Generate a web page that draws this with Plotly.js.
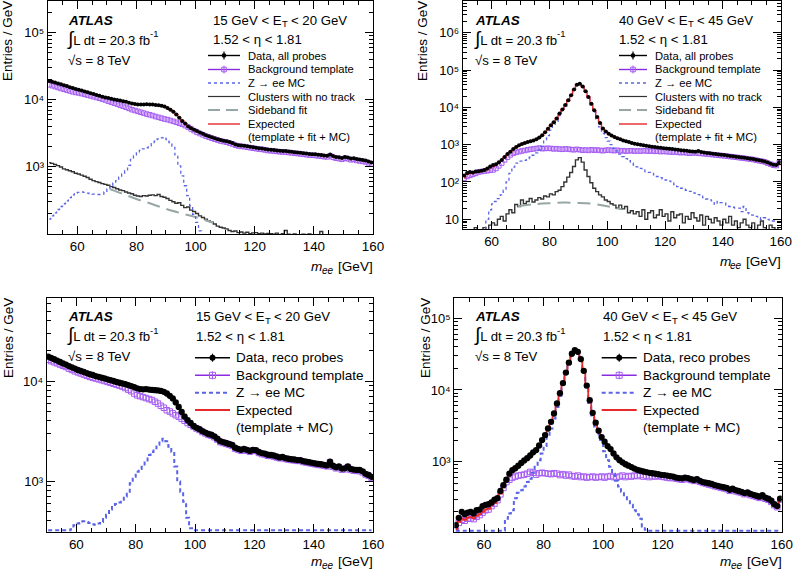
<!DOCTYPE html>
<html><head><meta charset="utf-8">
<script src="https://cdn.plot.ly/plotly-3.0.1.min.js"></script>
<style>html,body{margin:0;padding:0;background:#fff;}#chart{width:793px;height:574px;}</style>
</head><body><div id="chart"></div>
<script>
// ---------------- DATA ----------------
const massBins = [50.5,51.5,52.5,53.5,54.5,55.5,56.5,57.5,58.5,59.5,
60.5,61.5,62.5,63.5,64.5,65.5,66.5,67.5,68.5,69.5,
70.5,71.5,72.5,73.5,74.5,75.5,76.5,77.5,78.5,79.5,
80.5,81.5,82.5,83.5,84.5,85.5,86.5,87.5,88.5,89.5,
90.5,91.5,92.5,93.5,94.5,95.5,96.5,97.5,98.5,99.5,
100.5,101.5,102.5,103.5,104.5,105.5,106.5,107.5,108.5,109.5,
110.5,111.5,112.5,113.5,114.5,115.5,116.5,117.5,118.5,119.5,
120.5,121.5,122.5,123.5,124.5,125.5,126.5,127.5,128.5,129.5,
130.5,131.5,132.5,133.5,134.5,135.5,136.5,137.5,138.5,139.5,
140.5,141.5,142.5,143.5,144.5,145.5,146.5,147.5,148.5,149.5,
150.5,151.5,152.5,153.5,154.5,155.5,156.5,157.5,158.5,159.5];

const xTickVals = [60,80,100,120,140,160];
const xTickText = ['60','80','100','120','140','160'];
const decadeLabels = {1:'10', 2:'10²', 3:'10³', 4:'10⁴', 5:'10⁵', 6:'10⁶'};

// Panel 1: 15 < ET < 20 GeV, all probes
const p1Data = [19100,18600,18100,17500,17000,16500,16000,15300,14900,14500,
14100,13700,13300,12900,12500,12200,11800,11500,11100,10800,
10600,10300,10100,9900,9700,9500,9300,9000,8800,8600,
8500,8450,8500,8550,8500,8450,8350,8300,8100,7900,
7500,7100,6600,6000,5400,4800,4400,4000,3750,3550,
3400,3250,3100,2950,2850,2750,2650,2580,2500,2450,
2400,2330,2250,2150,2100,2080,2060,2020,1990,1950,
1920,1890,1870,1840,1800,1790,1770,1750,1730,1720,
1710,1690,1670,1650,1630,1610,1590,1570,1550,1540,
1530,1510,1500,1470,1460,1520,1440,1400,1380,1350,
1400,1370,1330,1340,1300,1280,1260,1240,1200,1160];
const p1Bkg = [16700,16200,15700,15200,14700,14300,13900,13500,13100,12800,
12600,12300,12000,11700,11400,11100,10800,10500,10200,9900,
9500,9200,8900,8600,8300,8000,7700,7400,7100,6900,
6700,6500,6300,6100,5950,5800,5600,5450,5300,5150,
5050,4900,4750,4600,4450,4300,4100,3900,3650,3450,
3250,3120,2990,2860,2760,2660,2570,2500,2420,2370,
2320,2250,2180,2090,2040,2010,1990,1950,1920,1890,
1860,1830,1810,1780,1740,1730,1710,1690,1670,1660,
1650,1630,1610,1590,1570,1550,1530,1510,1490,1480,
1470,1450,1440,1410,1400,1460,1380,1340,1320,1290,
1340,1310,1270,1280,1240,1220,1200,1180,1140,1100];
const p1ZMC = [165,185,205,230,255,280,310,345,380,405,
415,420,415,405,395,390,385,385,390,420,
465,520,570,620,700,780,870,1050,1290,1450,
1620,1750,1850,1920,2050,2200,2400,2600,2700,2750,
2550,2300,2030,1500,1030,730,520,370,263,195,
148,110,80,60,45,35,0,0,0,0,
0,0,0,0,0,0,0,0,0,0,
0,0,0,0,0,0,0,0,0,0,
0,0,0,0,0,0,0,0,0,0,
0,0,0,0,0,0,0,0,0,0,
0,0,0,0,0,0,0,0,0,0];
const p1NoTrack = [1150,1120,1080,1040,990,930,900,870,840,800,
780,750,720,690,650,620,600,580,560,545,
530,505,490,470,450,440,420,405,395,375,
365,360,370,365,375,380,370,385,360,350,
335,315,300,285,290,265,245,250,225,215,
200,185,175,165,155,148,140,130,125,122,
118,112,108,110,104,106,102,105,100,103,
104,100,102,99,101,100,98,102,97,100,
112,98,96,99,97,95,98,96,99,94,
96,95,108,94,96,93,95,92,94,93,
92,94,91,93,90,92,91,90,92,90];
const p1FitMass = [71,75,80,85,90,95,100,106];
const p1Fit = [464,400,330,280,235,203,177,145];
const p1Expected = [19000,18500,18000,17400,16900,16400,15900,15300,14900,14500,
14100,13700,13300,12900,12500,12200,11800,11500,11150,10850,
10600,10350,10100,9900,9700,9500,9300,9050,8850,8650,
8550,8500,8500,8500,8500,8450,8400,8300,8100,7900,
7500,7100,6600,6000,5400,4850,4400,4000,3750,3550,
3400,3250,3100,2950,2850,2750,2650,2580,2500,2450,
2400,2330,2250,2160,2100,2080,2060,2020,1990,1950,
1920,1890,1870,1840,1810,1790,1770,1750,1730,1720,
1710,1690,1670,1650,1630,1610,1590,1570,1550,1540,
1530,1510,1500,1470,1460,1510,1440,1400,1380,1350,
1390,1370,1330,1340,1300,1280,1260,1240,1200,1160];

// Panel 2: 40 < ET < 45 GeV, all probes
const p2Data = [150,175,185,180,190,195,200,210,230,260,
285,300,340,390,470,560,650,760,860,960,
1040,1100,1170,1230,1300,1400,1550,1800,2150,2650,
3300,4000,5000,6800,8800,11500,15500,21000,30000,40000,
43000,36000,27000,19000,12500,8300,5500,3800,2700,2250,
1950,1750,1600,1480,1390,1300,1230,1170,1110,1060,
1020,990,960,930,905,885,865,845,825,805,
790,775,760,745,730,710,700,690,670,660,
650,680,640,615,600,590,570,560,545,535,
525,510,500,490,475,465,455,445,430,420,
410,395,380,370,355,330,310,290,285,340];
const p2Bkg = [125,140,150,160,170,185,190,195,200,205,
210,230,270,320,390,460,530,590,620,650,
680,700,730,750,770,790,810,780,790,800,
790,770,780,760,750,770,760,740,730,750,
730,710,720,700,730,710,720,700,690,710,
720,700,690,710,680,690,670,680,690,670,
680,670,690,680,670,680,660,670,650,660,
650,640,630,640,620,610,620,600,590,600,
600,590,580,570,560,550,540,530,520,510,
500,490,480,470,460,450,440,430,420,410,
400,385,370,360,345,320,300,280,275,330];
const p2ZMC = [0,0,0,0,0,0,0,4,10,18,
26,30,36,45,60,100,170,250,320,360,
360,380,420,460,520,600,720,900,1250,1750,
2450,3200,4200,6000,8000,10700,14700,20200,29200,39200,
42200,35200,26200,18200,11700,7500,4700,3000,2000,1550,
1250,1000,800,680,560,480,420,370,320,285,
255,230,210,190,180,170,155,140,130,120,
113,105,95,85,75,68,64,60,56,52,
50,46,42,38,35,33,31,25,30,28,
27,24,22,21,20,20,16,22,15,14,
13,12,11,10,11,10,9,9,8.5,8.5];
const p2NoTrack = [3,5,4,3,6,5,4,6,5,7,
8,7,10,12,9,14,18,15,25,22,
33,26,30,36,29,33,38,35,42,40,
48,45,55,60,75,100,135,180,260,390,
450,340,210,140,95,68,55,45,40,33,
30,26,24,20,24,19,22,15,17,14,
16,12,18,10,15,17,11,13,18,12,
14,9,16,11,13,14,8,12,10,15,
11,9,13,7,12,10,8,11,9,7,
10,8,12,7,9,6,8,10,7,6,
8,5,7,9,6,5,7,6,5,6];
const p2FitMass = [69,75,80,85,90,95,100,105];
const p2Fit = [22.5,25.5,27,28,27.5,26,22.5,18.5];
const p2Expected = [130,160,170,170,180,190,195,200,215,240,
265,290,335,385,465,555,645,755,855,955,
1035,1095,1165,1230,1300,1400,1550,1790,2150,2650,
3280,4000,5000,6800,8800,11500,15500,21000,30000,40000,
43000,36000,27000,19000,12500,8300,5500,3800,2700,2250,
1950,1750,1600,1480,1390,1300,1230,1170,1110,1060,
1020,990,960,930,905,885,865,845,825,805,
790,775,760,745,730,710,700,690,670,660,
650,670,640,615,600,590,570,560,545,535,
525,510,500,490,475,465,455,445,430,420,
410,395,380,370,355,330,310,290,285,335];

// Panel 3: 15 < ET < 20 GeV, reco probes
const p3Data = [17500,17000,16500,16000,15500,15000,14600,14100,13700,13300,
12900,12600,12300,12000,11700,11500,11200,11000,10800,10600,
10400,10200,10000,9800,9600,9450,9300,9100,8900,8700,
8450,8300,8250,8300,8200,8150,8100,8050,7950,7800,
7500,7100,6700,6100,5500,4900,4400,4050,3800,3550,
3400,3300,3150,3050,2950,2900,2800,2650,2500,2450,
2400,2350,2300,2150,2100,2050,2100,2050,2000,2050,
2040,1950,1900,1880,1830,1820,1800,1760,1720,1740,
1690,1670,1650,1640,1620,1620,1580,1560,1540,1520,
1500,1480,1470,1450,1430,1560,1420,1370,1400,1330,
1340,1400,1320,1300,1290,1290,1250,1180,1150,1100];
const p3Bkg = [16300,15800,15400,15000,14600,14200,13800,13300,12900,12500,
12200,11900,11600,11300,11000,10800,10600,10400,10200,10000,
9800,9600,9400,9200,9000,8800,8500,8200,7900,7500,
7200,7050,6900,6750,6600,6450,6200,5950,5650,5400,
5100,4950,4750,4550,4400,4200,4000,3800,3650,3500,
3350,3240,3090,2990,2890,2840,2740,2600,2450,2400,
2350,2300,2250,2110,2060,2010,2060,2010,1960,2010,
2000,1910,1860,1840,1790,1780,1760,1720,1690,1700,
1660,1640,1620,1610,1590,1590,1550,1530,1510,1490,
1470,1450,1440,1420,1400,1530,1390,1340,1370,1300,
1310,1370,1290,1270,1260,1260,1220,1160,1130,1080];
const p3ZMC = [0,0,0,0,0,0,0,280,330,360,
375,380,395,390,380,370,365,375,390,430,
460,520,575,590,610,620,700,780,950,1100,
1240,1320,1390,1600,1820,1950,2120,2300,2500,2650,
2500,2200,1960,1400,990,780,620,430,337,0,
0,0,0,0,0,0,0,0,0,0,
0,0,0,0,0,0,0,0,0,0,
0,0,0,0,0,0,0,0,0,0,
0,0,0,0,0,0,0,0,0,0,
0,0,0,0,0,0,0,0,0,0,
0,0,0,0,0,0,0,0,0,0];
const p3Expected = [17400,16900,16400,15900,15400,14900,14500,14000,13600,13200,
12800,12500,12200,11900,11600,11400,11100,10900,10700,10500,
10300,10100,9950,9750,9600,9450,9250,9050,8850,8650,
8450,8350,8300,8350,8400,8350,8300,8250,8150,7950,
7600,7150,6700,6000,5400,4950,4600,4200,3950,3700,
3350,3240,3090,2990,2890,2840,2740,2600,2450,2400,
2350,2300,2250,2110,2060,2010,2060,2010,1960,2010,
2000,1910,1860,1840,1790,1780,1760,1720,1690,1700,
1660,1640,1620,1610,1590,1590,1550,1530,1510,1490,
1470,1450,1440,1420,1400,1530,1390,1340,1370,1300,
1310,1370,1290,1270,1260,1260,1220,1160,1130,1080];

// Panel 4: 40 < ET < 45 GeV, reco probes
const p4Data = [130,165,200,185,195,200,190,210,215,240,
250,255,270,295,310,390,470,560,680,760,
810,880,960,1040,1120,1220,1350,1450,1680,2000,
2350,2900,3600,4700,6500,9000,12500,17500,24000,32000,
36000,34000,27000,18500,11500,7200,4800,3500,2700,2200,
1900,1650,1500,1300,1150,1050,980,920,880,840,
800,770,750,730,715,700,690,680,670,655,
650,640,630,620,600,590,585,600,590,570,
555,570,540,520,510,500,490,470,460,450,
440,430,405,420,400,390,380,365,372,355,
345,335,325,340,315,305,285,255,240,305];
const p4Bkg = [110,140,155,150,160,162,158,170,180,195,
210,215,240,260,290,350,430,520,560,600,
620,640,650,660,680,720,700,660,690,700,
690,680,670,690,680,650,670,640,660,630,
620,640,610,620,600,610,620,600,610,620,
600,620,630,610,600,620,640,610,630,620,
640,630,650,620,640,610,630,620,640,620,
610,600,590,600,580,570,560,580,570,555,
540,555,525,505,495,480,470,455,445,435,
425,415,392,405,387,377,367,352,360,342,
333,323,313,328,304,294,275,247,232,295];
const p4ZMC = [0,0,0,0,0,0,0,0,0,0,
0,0,0,0,0,0,0,160,190,210,
310,370,400,450,520,580,700,850,1050,1300,
1650,2200,2900,4000,5800,8300,11800,16800,23300,31300,
35400,33400,26400,17900,10900,6600,4400,3100,2400,2000,
1400,1050,850,680,540,450,380,320,290,250,
210,185,160,125,112,0,0,0,0,0,
0,0,0,0,0,0,0,0,0,0,
0,0,0,0,0,0,0,0,0,0,
0,0,0,0,0,0,0,0,0,0,
0,0,0,0,0,0,0,0,0,0];
const p4Expected = [115,145,160,155,165,168,162,175,185,200,
215,220,245,265,295,360,440,540,660,760,
810,880,960,1040,1120,1220,1350,1450,1680,2000,
2350,2900,3600,4700,6500,9000,12500,17500,24000,32000,
36000,34000,27000,18500,11500,7200,4800,3500,2700,2200,
1900,1650,1500,1300,1150,1050,980,920,880,840,
800,770,750,730,715,700,690,680,670,655,
650,640,630,620,600,590,585,600,590,570,
555,570,540,520,510,500,490,470,460,450,
440,430,405,420,400,390,380,365,372,355,
345,335,325,340,315,305,285,255,240,305];

// ---------------- STYLE / LAYOUT ----------------
const W = 793, H = 574;
const fx = x => x / W, fy = y => 1 - y / H;
const FONT = 'Liberation Sans, Arial, Helvetica, sans-serif';
const C = {data:'#000000', bkg:'#a55cf2', bkgLine:'#8a2be2', z:'#5a64e6', nt:'#333333', fit:'#98a6a6', exp:'#e8282a'};

function minorLogTicks(lo, hi){
  const minor = [];
  for (let n = Math.floor(lo); n <= Math.ceil(hi); n++){
    const v = Math.pow(10, n);
    for (let k = 2; k <= 9; k++){ const m = k * v; const l = Math.log10(m); if (l >= lo && l <= hi) minor.push(m); }
  }
  return minor;
}

const panels = [
  {ax:'', xpx:[47.7,373], ypx:[1,234], yr:[1.996,5.473], labelDecades:[3,4,5], top:true,
   data:p1Data, bkg:p1Bkg, z:p1ZMC, nt:p1NoTrack, fitX:p1FitMass, fit:p1Fit, exp:p1Expected},
  {ax:'2', xpx:[462.7,780.7], ypx:[1,229.3], yr:[0.732,6.849], labelDecades:[1,2,3,4,5,6], top:true,
   data:p2Data, bkg:p2Bkg, z:p2ZMC, nt:p2NoTrack, fitX:p2FitMass, fit:p2Fit, exp:p2Expected},
  {ax:'3', xpx:[46.7,373], ypx:[297.7,532.3], yr:[2.487,4.833], labelDecades:[3,4], top:false,
   data:p3Data, bkg:p3Bkg, z:p3ZMC, exp:p3Expected},
  {ax:'4', xpx:[454.3,781.7], ypx:[297.7,532.3], yr:[2.015,5.287], labelDecades:[3,4,5], top:false,
   data:p4Data, bkg:p4Bkg, z:p4ZMC, exp:p4Expected}
];

const traces = [];
const layout = {
  width: W, height: H, margin:{l:0,r:0,t:0,b:0}, paper_bgcolor:'#fff', plot_bgcolor:'#fff',
  showlegend:false, font:{family:FONT, color:'#000', size:13},
  annotations:[], shapes:[]
};

panels.forEach(p => {
  const xa = 'x' + p.ax, ya = 'y' + p.ax;
  const floorVal = Math.pow(10, p.yr[0] + 0.02);   // empty bins drawn on the lower frame, ROOT style
  const zDraw = p.top ? p.z.map(v => v > 0 ? v : null) : p.z.map(v => Math.max(v, floorVal));
  if (p.top){
    traces.push({x:massBins, y:p.nt, xaxis:xa, yaxis:ya, mode:'lines', line:{shape:'hvh', color:C.nt, width:1.4}, hoverinfo:'skip'});
    traces.push({x:p.fitX, y:p.fit, xaxis:xa, yaxis:ya, mode:'lines', line:{shape:'spline', color:C.fit, width:2, dash:'13px,7px'}, hoverinfo:'skip'});
  }
  traces.push({x:massBins, y:p.bkg, xaxis:xa, yaxis:ya, mode:'markers',
    marker:{symbol:'square-open', size:p.top?4.5:5.5, color:C.bkg, line:{width:1, color:C.bkg}}, hoverinfo:'skip'});
  traces.push({x:massBins, y:zDraw, xaxis:xa, yaxis:ya, mode:'lines', connectgaps:false,
    line:{shape:'hvh', color:C.z, width:p.top?1.3:2, dash:p.top?'3px,3px':'4px,3px'}, hoverinfo:'skip'});
  traces.push({x:massBins, y:p.exp, xaxis:xa, yaxis:ya, mode:'lines', line:{shape:'hvh', color:C.exp, width:p.top?1.4:1.8}, hoverinfo:'skip'});
  traces.push({x:massBins, y:p.data, xaxis:xa, yaxis:ya, mode:'markers', marker:{color:C.data, size:p.top?4:6.3}, hoverinfo:'skip'});

  const common = {showline:true, linecolor:'#000', linewidth:1, mirror:'allticks', ticks:'inside', tickcolor:'#000',
    tickwidth:1, showgrid:false, zeroline:false, automargin:false, fixedrange:true};
  layout['xaxis' + p.ax] = Object.assign({}, common, {
    domain:[fx(p.xpx[0]), fx(p.xpx[1])], anchor:ya, range:[50,160], tickmode:'array',
    tickvals:xTickVals, ticktext:xTickText, ticklen:8, tickfont:{family:FONT, size:13.4, color:'#000'},
    minor:{tickmode:'linear', tick0:50, dtick:5, ticks:'inside', ticklen:4, tickcolor:'#000', tickwidth:1}
  });
  layout['yaxis' + p.ax] = Object.assign({}, common, {
    domain:[fy(p.ypx[1]), fy(p.ypx[0])], anchor:xa, type:'log', range:p.yr, tickmode:'array',
    tickvals:p.labelDecades.map(n => Math.pow(10, n)), ticktext:p.labelDecades.map(n => decadeLabels[n]),
    ticklen:8, tickfont:{family:FONT, size:13, color:'#000'},
    minor:{tickmode:'array', tickvals:minorLogTicks(p.yr[0], p.yr[1]), ticks:'inside', ticklen:4, tickcolor:'#000', tickwidth:1}
  });
});

// ---- text blocks ----
function ann(x, y, text, opts){
  return Object.assign({xref:'paper', yref:'paper', x:fx(x), y:fy(y), text:text, showarrow:false,
    borderpad:0, borderwidth:0,
    xanchor:'left', yanchor:'middle', font:{family:FONT, size:13.2, color:'#000'}}, opts || {});
}
const atlasPos = [[68,20],[475,20],[68,316],[475,316]];
const etLeft = ['15 GeV &lt; E','40 GeV &lt; E','15 GeV &lt; E','40 GeV &lt; E'];
const etRight = ['&lt; 20 GeV','&lt; 45 GeV','&lt; 20 GeV','&lt; 45 GeV'];
const etPos = [[213,20],[619,20],[195.5,316],[603,316]];
atlasPos.forEach((pos, i) => {
  const x0 = pos[0], y0 = pos[1];
  layout.annotations.push(ann(x0, y0, '<b><i>ATLAS</i></b>', {font:{family:FONT, size:13.4, color:'#000'}}));
  layout.annotations.push(ann(x0 + 81.5, y0 + 19, '<span style="font-size:19px">∫</span>L dt = 20.3 fb', {xanchor:'right'}));
  layout.annotations.push(ann(x0 + 82.3, y0 + 14, '-1', {font:{family:FONT, size:9.5, color:'#000'}}));
  layout.annotations.push(ann(x0, y0 + 40, '√s = 8 TeV'));
  const ex = etPos[i][0], ey = etPos[i][1];
  layout.annotations.push(ann(ex, ey, etLeft[i]));
  layout.annotations.push(ann(ex + 69.3, ey + 4, 'T', {font:{family:FONT, size:9.5, color:'#000'}}));
  layout.annotations.push(ann(ex + 78.3, ey, etRight[i]));
  layout.annotations.push(ann(ex, ey + (i < 2 ? 19 : 20), '1.52 &lt; η &lt; 1.81'));
});

// axis titles
const yTitlePos = [[8,1],[423,1],[8,298],[425,298]];
yTitlePos.forEach(pos => layout.annotations.push(ann(pos[0], pos[1], 'Entries / GeV',
  {xanchor:'center', yanchor:'top', textangle:-90, font:{family:FONT, size:13.5, color:'#000'}})));
const xTitlePos = [[372.7,266.7],[781,261.7],[372.7,561.7],[781.7,561.7]];
xTitlePos.forEach(pos => {
  const R = pos[0], y = pos[1];
  layout.annotations.push(ann(R, y, '[GeV]', {xanchor:'right', font:{family:FONT, size:13.6, color:'#000'}}));
  layout.annotations.push(ann(R - 39, y + 3.5, '<i>ee</i>', {xanchor:'right', font:{family:FONT, size:10, color:'#000'}}));
  layout.annotations.push(ann(R - 50.5, y, '<i>m</i>', {xanchor:'right', font:{family:FONT, size:13.6, color:'#000'}}));
});

// ---- manual legends ----
function lineShape(x0, x1, y, color, width, dash){
  return {type:'line', xref:'paper', yref:'paper', x0:fx(x0), x1:fx(x1), y0:fy(y), y1:fy(y), line:{color:color, width:width, dash:dash||'solid'}};
}
function legend(cfg){
  const mid = (cfg.x0 + cfg.x1) / 2;
  cfg.items.forEach((it, i) => {
    const y = cfg.rows[i];
    layout.annotations.push(ann(cfg.xt, y, it.text, {font:{family:FONT, size:cfg.fs, color:'#000'}}));
    if (!it.kind) return;
    if (it.kind === 'data'){
      layout.shapes.push(lineShape(cfg.x0, cfg.x1, y, '#000', 1.4));
      layout.shapes.push({type:'line', xref:'paper', yref:'paper', x0:fx(mid), x1:fx(mid), y0:fy(y-4), y1:fy(y+4), line:{color:'#000', width:1.2}});
      layout.shapes.push({type:'circle', xref:'paper', yref:'paper', x0:fx(mid-cfg.r), x1:fx(mid+cfg.r), y0:fy(y+cfg.r), y1:fy(y-cfg.r), fillcolor:'#000', line:{color:'#000', width:0}});
    } else if (it.kind === 'bkg'){
      layout.shapes.push(lineShape(cfg.x0, cfg.x1, y, C.bkgLine, 1.4));
      layout.shapes.push({type:'line', xref:'paper', yref:'paper', x0:fx(mid), x1:fx(mid), y0:fy(y-4), y1:fy(y+4), line:{color:C.bkg, width:1}});
      layout.shapes.push({type:'rect', xref:'paper', yref:'paper', x0:fx(mid-cfg.r), x1:fx(mid+cfg.r), y0:fy(y+cfg.r), y1:fy(y-cfg.r), fillcolor:'rgba(0,0,0,0)', line:{color:C.bkg, width:1}});
    } else if (it.kind === 'z'){
      layout.shapes.push(lineShape(cfg.x0, cfg.x1, y, C.z, cfg.top?1.3:2, cfg.top?'3px,3px':'4px,3px'));
    } else if (it.kind === 'nt'){
      layout.shapes.push(lineShape(cfg.x0, cfg.x1, y, C.nt, 1.2));
    } else if (it.kind === 'fit'){
      layout.shapes.push(lineShape(cfg.x0, cfg.x1, y, C.fit, 2, '12px,6px'));
    } else if (it.kind === 'exp'){
      layout.shapes.push(lineShape(cfg.x0, cfg.x1, y, C.exp, cfg.top?1.4:1.8));
    }
  });
}
const topItems = [
  {kind:'data', text:'Data, all probes'}, {kind:'bkg', text:'Background template'}, {kind:'z', text:'Z → ee MC'},
  {kind:'nt', text:'Clusters with no track'}, {kind:'fit', text:'Sideband fit'}, {kind:'exp', text:'Expected'},
  {kind:null, text:'(template + fit + MC)'}];
const botItems = [
  {kind:'data', text:'Data, reco probes'}, {kind:'bkg', text:'Background template'}, {kind:'z', text:'Z → ee MC'},
  {kind:'exp', text:'Expected'}, {kind:null, text:'(template + MC)'}];
const topRows = [55.5,69.5,83,96.5,110,124,137.5];
const botRows = [357.7,375.3,392.7,410,427.3];
legend({x0:208, x1:240, xt:248, rows:topRows, fs:11.2, r:2.3, top:true, items:topItems});
legend({x0:619, x1:647, xt:655, rows:topRows, fs:11.2, r:2.3, top:true, items:topItems});
legend({x0:195, x1:230, xt:236, rows:botRows, fs:13.5, r:3, top:false, items:botItems});
legend({x0:601.7, x1:636.7, xt:643.3, rows:botRows, fs:13.5, r:3, top:false, items:botItems});

Plotly.newPlot('chart', traces, layout, {staticPlot:true, displayModeBar:false});
</script>
</body></html>
